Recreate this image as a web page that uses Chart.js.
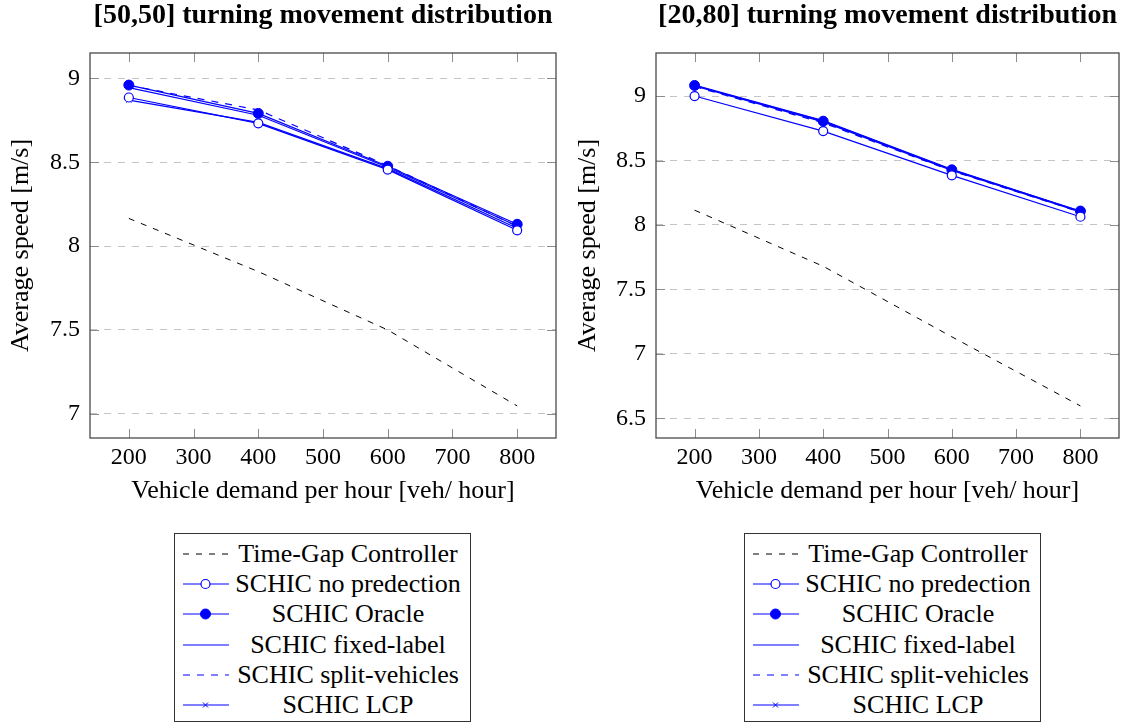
<!DOCTYPE html>
<html><head><meta charset="utf-8">
<script src="https://cdn.jsdelivr.net/npm/chart.js@4.4.1/dist/chart.umd.min.js"></script>
<style>
body{margin:0;background:#fff;width:1125px;height:726px;overflow:hidden;position:relative;font-family:"Times New Roman","Liberation Serif",Tinos,"DejaVu Serif",serif;}
canvas{position:absolute;top:0}
#c1{left:0} #c2{left:570px}
.legend{position:absolute;top:533px;width:295px;height:187px;border:1px solid #333;}
.row{position:absolute;left:0;width:295px;height:30px}
.row svg{position:absolute;left:8px;top:0}
.row span{position:absolute;left:54px;width:238px;text-align:center;top:0;line-height:30px;font-size:26px;color:#000;white-space:nowrap}
</style></head>
<body>
<canvas id="c1" width="570" height="508"></canvas>
<canvas id="c2" width="555" height="508"></canvas>
<div class="legend" id="lg1" style="left:174px"></div>
<div class="legend" id="lg2" style="left:744px"></div>
<script>
// ---- data ----
const demand = [200, 400, 600, 800];
const xTicks = [200, 300, 400, 500, 600, 700, 800];
const yTicksLeft = [7, 7.5, 8, 8.5, 9];
const yTicksRight = [6.5, 7, 7.5, 8, 8.5, 9];
const seriesNames = ['Time-Gap Controller', 'SCHIC no predection', 'SCHIC Oracle', 'SCHIC fixed-label', 'SCHIC split-vehicles', 'SCHIC LCP'];
const titleLeft = '[50,50] turning movement distribution';
const titleRight = '[20,80] turning movement distribution';
const xTitle = 'Vehicle demand per hour [veh/ hour]';
const yTitle = 'Average speed [m/s]';

// [50,50]
const left_timeGap = [8.165, 7.848, 7.50, 7.047];
const left_noPred  = [8.886, 8.732, 8.456, 8.094];
const left_oracle  = [8.960, 8.791, 8.476, 8.130];
const left_fixed   = [8.945, 8.780, 8.470, 8.120];
const left_split   = [8.958, 8.812, 8.480, 8.118];
const left_lcp     = [8.870, 8.738, 8.462, 8.106];

// [20,80]
const right_timeGap = [8.115, 7.680, 7.133, 6.597];
const right_noPred  = [9.000, 8.728, 8.385, 8.064];
const right_oracle  = [9.082, 8.805, 8.428, 8.108];
const right_fixed   = [9.078, 8.800, 8.424, 8.102];
const right_split   = [9.074, 8.792, 8.420, 8.100];
const right_lcp     = [9.085, 8.810, 8.432, 8.106];

// ---- styles ----
const FAMILY = '"Times New Roman", "Liberation Serif", Tinos, "DejaVu Serif", serif';
const BLUE = '#0000ff';
const styles = [
  {borderColor:'#000', borderDash:[6,7], pointRadius:0, borderWidth:1},
  {borderColor:BLUE, pointStyle:'circle', pointRadius:4.5, pointBackgroundColor:'#fff', pointBorderColor:BLUE, pointBorderWidth:1.2, borderWidth:1.2},
  {borderColor:BLUE, pointStyle:'circle', pointRadius:5, pointBackgroundColor:BLUE, pointBorderColor:BLUE, pointBorderWidth:1, borderWidth:1.2},
  {borderColor:BLUE, pointRadius:0, borderWidth:1.2},
  {borderColor:BLUE, borderDash:[7,7], pointRadius:0, borderWidth:1.2},
  {borderColor:BLUE, pointStyle:'crossRot', pointRadius:3.5, pointBorderColor:BLUE, pointBorderWidth:1, borderWidth:1.2}
];

function makeDatasets(arrs){
  return arrs.map((vals,i)=>Object.assign({
    label: seriesNames[i],
    data: vals.map((v,j)=>({x:demand[j], y:v})),
    fill:false, tension:0, backgroundColor:'transparent'
  }, styles[i]));
}

const framePlugin = {
  id:'frame',
  afterDraw(chart){
    const {ctx, chartArea:a, scales:{x,y}} = chart;
    ctx.save();
    ctx.strokeStyle = '#8c8c8c'; ctx.lineWidth = 1;
    ctx.beginPath();
    for (const t of x.ticks){
      const px = Math.round(x.getPixelForValue(t.value)) + 0.5;
      ctx.moveTo(px, a.bottom); ctx.lineTo(px, a.bottom - 9);
      ctx.moveTo(px, a.top); ctx.lineTo(px, a.top + 9);
    }
    for (const t of y.ticks){
      const py = Math.round(y.getPixelForValue(t.value)) + 0.5;
      ctx.moveTo(a.left, py); ctx.lineTo(a.left + 9, py);
      ctx.moveTo(a.right, py); ctx.lineTo(a.right - 9, py);
    }
    ctx.stroke();
    ctx.strokeStyle = '#4a4a4a'; ctx.lineWidth = 1.3;
    ctx.strokeRect(a.left, a.top, a.right - a.left, a.bottom - a.top);
    ctx.restore();
  }
};

function makeChart(id, title, arrs, yTicks, yAxisWidth, yTitlePad, padRight){
  const all = arrs.flat();
  const lo = Math.min(...all), hi = Math.max(...all), r = hi - lo;
  const xr = demand[demand.length-1] - demand[0];
  const font = {family:FAMILY, size:24};
  const tfont = {family:FAMILY, size:26, lineHeight:1.2};
  return new Chart(document.getElementById(id), {
    type:'line',
    data:{datasets: makeDatasets(arrs)},
    options:{
      responsive:false, animation:false, devicePixelRatio:1,
      layout:{padding:{left:0, right:padRight, top:0, bottom:0}},
      plugins:{
        legend:{display:false}, tooltip:{enabled:false},
        title:{display:true, text:title, fullSize:false, color:'#000',
          font:{family:FAMILY, size:28, weight:'bold', lineHeight:1},
          padding:{top:2, bottom:23}}
      },
      scales:{
        x:{type:'linear', min:demand[0]-0.1*xr, max:demand[demand.length-1]+0.1*xr,
          afterBuildTicks:s=>{s.ticks = xTicks.map(v=>({value:v}));},
          afterFit:s=>{s.height = 70;},
          grid:{display:false, drawTicks:false},
          border:{display:false},
          ticks:{color:'#000', font, padding:5, maxRotation:0, autoSkip:false, callback:v=>String(v)},
          title:{display:true, text:xTitle, color:'#000', font:tfont, padding:{top:0, bottom:1}}
        },
        y:{type:'linear', min:lo-0.1*r, max:hi+0.1*r,
          afterBuildTicks:s=>{s.ticks = yTicks.map(v=>({value:v}));},
          afterFit:s=>{s.width = yAxisWidth;},
          grid:{display:true, drawTicks:false, color:'#c4c4c4', lineWidth:1},
          border:{display:false, dash:[7,7]},
          ticks:{color:'#000', font, padding:10, autoSkip:false, callback:v=>String(v)},
          title:{display:true, text:yTitle, color:'#000', font:tfont, padding:{top:yTitlePad, bottom:0}}
        }
      }
    },
    plugins:[framePlugin]
  });
}

makeChart('c1', titleLeft, [left_timeGap, left_noPred, left_oracle, left_fixed, left_split, left_lcp], yTicksLeft, 90, 6, 14);
makeChart('c2', titleRight, [right_timeGap, right_noPred, right_oracle, right_fixed, right_split, right_lcp], yTicksRight, 86, 3, 3);

// ---- HTML legend ----
function sampleSVG(i){
  const s = styles[i];
  const dash = s.borderDash ? `stroke-dasharray="${s.borderDash.join(',')}"` : '';
  let m = '';
  if (i === 1) m = `<circle cx="22.5" cy="15" r="4.5" fill="#fff" stroke="${BLUE}" stroke-width="1.2"/>`;
  if (i === 2) m = `<circle cx="22.5" cy="15" r="5" fill="${BLUE}" stroke="${BLUE}"/>`;
  if (i === 5) m = `<path d="M20 12.5 L25 17.5 M25 12.5 L20 17.5" stroke="${BLUE}" stroke-width="1"/>`;
  return `<svg width="46" height="30"><line x1="0" y1="15" x2="46" y2="15" stroke="${s.borderColor}" stroke-width="${s.borderWidth}" ${dash}/>${m}</svg>`;
}
for (const id of ['lg1','lg2']){
  const el = document.getElementById(id);
  seriesNames.forEach((n,i)=>{
    const row = document.createElement('div');
    row.className = 'row';
    row.style.top = (5 + i*30.2) + 'px';
    row.innerHTML = sampleSVG(i) + `<span>${n}</span>`;
    el.appendChild(row);
  });
}
</script>
</body></html>
